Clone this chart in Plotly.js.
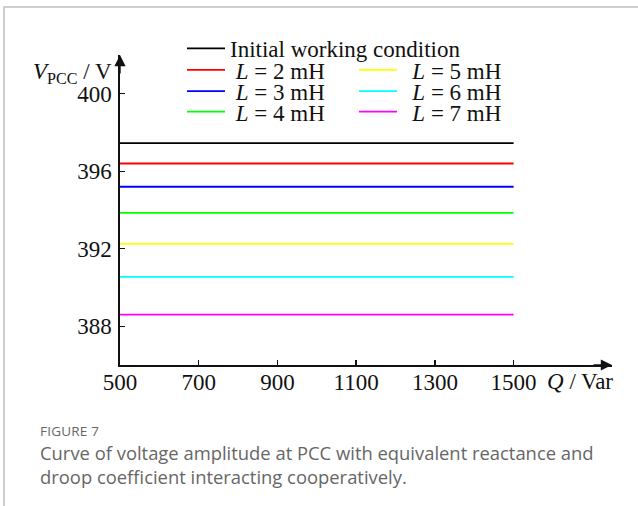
<!DOCTYPE html>
<html>
<head>
<meta charset="utf-8">
<script src="https://cdn.plot.ly/plotly-3.0.1.min.js"></script>
<style>
  html, body { margin: 0; padding: 0; background: #fff; }
  #wrap { position: relative; width: 638px; height: 506px; overflow: hidden; }
  #frame { position: absolute; left: 3px; top: 6px; right: -10px; bottom: -10px;
           border-left: 2px solid #cdcdcd; border-top: 2px solid #cdcdcd; }
  #chart { position: absolute; left: 0; top: 0; width: 638px; height: 506px; }
  #cap { position: absolute; left: 40px; top: 421px; width: 572px;
         font-family: "Open Sans", "Noto Sans", sans-serif; color: #666; }
  #cap .fig { font-size: 13.5px; line-height: 20px; letter-spacing: 0.2px; }
  #cap .txt { font-size: 18.4px; line-height: 24px; }
</style>
</head>
<body>
<div id="wrap">
  <div id="frame"></div>
  <div id="chart"></div>
  <div id="cap">
    <div class="fig">FIGURE 7</div>
    <div class="txt">Curve of voltage amplitude at PCC with equivalent reactance and droop coefficient interacting cooperatively.</div>
  </div>
</div>
<script>
// Data
const Q = [500, 700, 900, 1100, 1300, 1500];
const seriesNames = ["Initial working condition", "L = 2 mH", "L = 3 mH", "L = 4 mH", "L = 5 mH", "L = 6 mH", "L = 7 mH"];
const vInitial = [397.45, 397.45, 397.45, 397.45, 397.45, 397.45];
const vL2 = [396.4, 396.4, 396.4, 396.4, 396.4, 396.4];
const vL3 = [395.2, 395.2, 395.2, 395.2, 395.2, 395.2];
const vL4 = [393.85, 393.85, 393.85, 393.85, 393.85, 393.85];
const vL5 = [392.25, 392.25, 392.25, 392.25, 392.25, 392.25];
const vL6 = [390.55, 390.55, 390.55, 390.55, 390.55, 390.55];
const vL7 = [388.6, 388.6, 388.6, 388.6, 388.6, 388.6];
const xTicks = [500, 700, 900, 1100, 1300, 1500];
const yTicks = [388, 392, 396, 400];

const colors = ["#000000", "#ff0000", "#0000ff", "#00ff00", "#ffff00", "#00ffff", "#ff00ff"];
const values = [vInitial, vL2, vL3, vL4, vL5, vL6, vL7];
const labels = [
  "Initial working condition",
  "&nbsp;<i>L</i> = 2 mH",
  "&nbsp;<i>L</i> = 3 mH",
  "&nbsp;<i>L</i> = 4 mH",
  "&nbsp;&#8201;<i>L</i> = 5 mH",
  "&nbsp;&#8201;<i>L</i> = 6 mH",
  "&nbsp;&#8201;<i>L</i> = 7 mH"
];

const traces = values.map((v, i) => ({
  x: Q, y: v, type: "scatter", mode: "lines",
  name: labels[i],
  line: { color: colors[i], width: 1.8 },
  legend: i === 0 ? "legend" : "legend" + (i + 1),
  showlegend: true
}));

const FONT = "Liberation Serif, Times New Roman, serif";
const FS = 23;
const legendPos = [
  [0.126, 1.021], [0.126, 0.952], [0.126, 0.883], [0.126, 0.817],
  [0.4756, 0.952], [0.4756, 0.883], [0.4756, 0.817]
];

const layout = {
  width: 638, height: 506,
  margin: { l: 120, r: 26, t: 54.5, b: 140.5 },
  paper_bgcolor: "rgba(0,0,0,0)",
  plot_bgcolor: "rgba(0,0,0,0)",
  font: { family: FONT, size: FS, color: "#111" },
  showlegend: true,
  xaxis: {
    range: [500, 1750], showgrid: false, zeroline: false,
    showline: true, linecolor: "#111", linewidth: 1.6,
    ticks: "inside", ticklen: 5, tickwidth: 1.4, tickcolor: "#111",
    tickvals: xTicks, ticktext: xTicks.map(String),
    tickfont: { family: FONT, size: FS, color: "#111" },
    ticklabelstandoff: -4,
    fixedrange: true
  },
  yaxis: {
    range: [386, 402], showgrid: false, zeroline: false,
    showline: true, linecolor: "#111", linewidth: 1.6,
    ticks: "inside", ticklen: 5, tickwidth: 1.4, tickcolor: "#111",
    tickvals: yTicks, ticktext: yTicks.map(String),
    tickfont: { family: FONT, size: FS, color: "#111" },
    ticklabelstandoff: 2,
    fixedrange: true
  },
  annotations: [
    { x: 1750, y: 386, xref: "x", yref: "y", ax: -20, ay: 0, showarrow: true,
      arrowhead: 2, arrowsize: 1.6, arrowwidth: 1.4, arrowcolor: "#111", text: "", standoff: 0 },
    { x: 500, y: 402, xref: "x", yref: "y", ax: 0, ay: 20, showarrow: true,
      arrowhead: 2, arrowsize: 1.6, arrowwidth: 1.4, arrowcolor: "#111", text: "", standoff: 0 },
    { x: 1580, y: 0, xref: "x", yref: "paper", xanchor: "left", yanchor: "top", yshift: -2,
      showarrow: false, text: "<i>Q</i> / Var", font: { family: FONT, size: FS, color: "#111" } },
    { x: -0.013, y: 401.05, xref: "paper", yref: "y", xanchor: "right", yanchor: "middle",
      showarrow: false, text: "<i>V</i><sub>PCC</sub> / V", font: { family: FONT, size: FS, color: "#111" } }
  ]
};

legendPos.forEach((p, i) => {
  const key = i === 0 ? "legend" : "legend" + (i + 1);
  layout[key] = {
    x: p[0], y: p[1], xanchor: "left", yanchor: "middle",
    bgcolor: "rgba(0,0,0,0)", borderwidth: 0,
    font: { family: FONT, size: FS, color: "#111" },
    itemwidth: 38, itemclick: false, itemdoubleclick: false
  };
});

Plotly.newPlot("chart", traces, layout, { staticPlot: true, displayModeBar: false });
</script>
</body>
</html>
